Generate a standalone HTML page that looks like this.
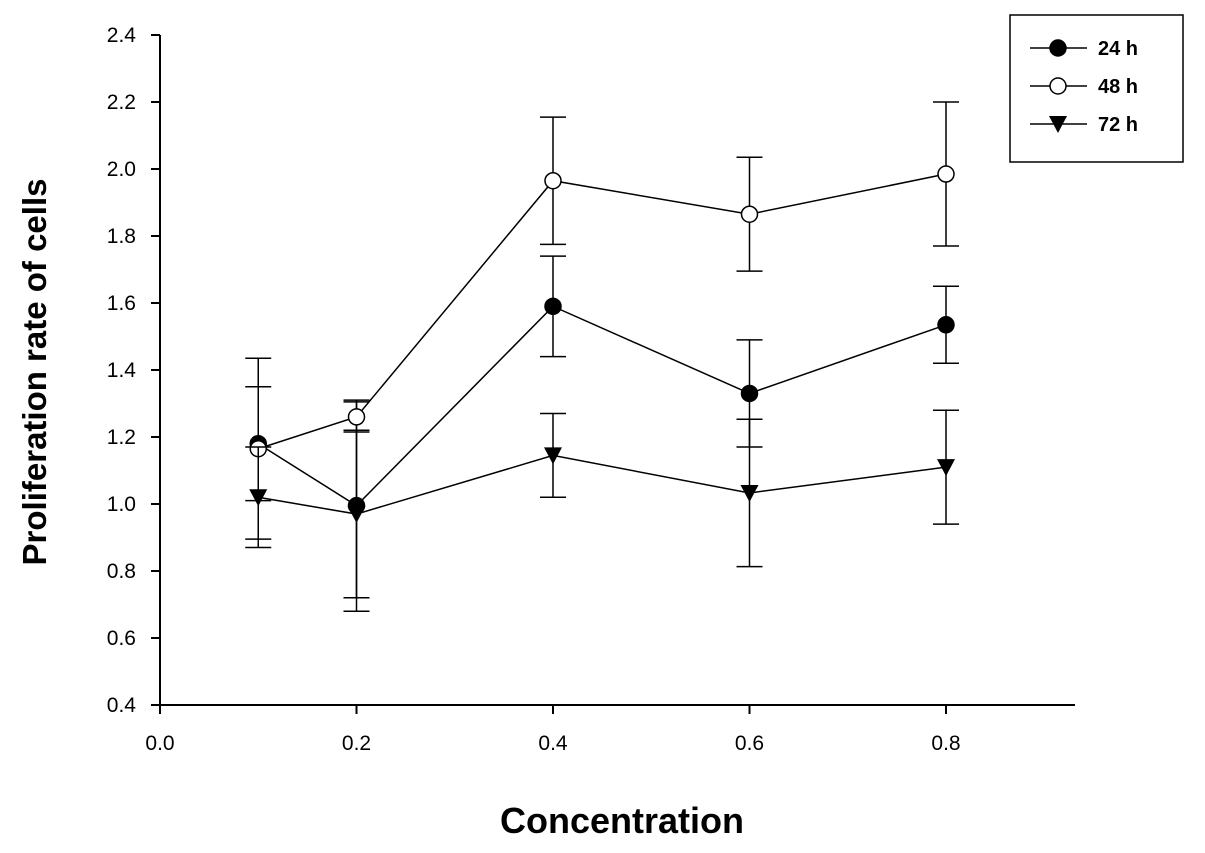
<!DOCTYPE html>
<html><head><meta charset="utf-8"><style>
body{margin:0;background:#fff;}
svg text{font-family:"Liberation Sans",Arial,sans-serif;}
</style></head><body>
<svg id="chart" width="1205" height="848" viewBox="0 0 1205 848" xmlns="http://www.w3.org/2000/svg">
<g id="axes"></g><g id="series"></g><g id="legend"></g>
</svg>
<script>
const xValues=[0.1,0.2,0.4,0.6,0.8];
const seriesNames=["24 h","48 h","72 h"];
const values24=[1.18,0.995,1.59,1.33,1.535];
const errors24=[0.17,0.315,0.15,0.16,0.115];
const values48=[1.165,1.26,1.965,1.865,1.985];
const errors48=[0.27,0.045,0.19,0.17,0.215];
const values72=[1.02,0.97,1.145,1.033,1.11];
const errors72=[0.15,0.25,0.125,0.22,0.17];
const xTicks=["0.0","0.2","0.4","0.6","0.8"];
const yTicks=["0.4","0.6","0.8","1.0","1.2","1.4","1.6","1.8","2.0","2.2","2.4"];

const NS="http://www.w3.org/2000/svg";
const X0=160,X1=1075,Y0=705,Y1=35;
function sx(v){return X0+v/0.2*196.5;}
function sy(v){return Y0-(v-0.4)/2.0*(Y0-Y1);}
function mk(tag,attrs,parent){const e=document.createElementNS(NS,tag);for(const k in attrs)e.setAttribute(k,attrs[k]);parent.appendChild(e);return e;}
const axes=document.getElementById('axes');
let a=mk('path',{d:`M${X0},${Y1}V${Y0}H${X1}`,fill:'none',stroke:'#000','stroke-width':2},axes);


yTicks.forEach(t=>{const y=sy(parseFloat(t));
 const l=mk('line',{x1:X0-9,x2:X0,y1:y,y2:y,stroke:'#000','stroke-width':2},axes);
 
 
 const tx=mk('text',{x:X0-24,y:y+7,'text-anchor':'end','font-size':21},axes);tx.textContent=t;
 
 });
xTicks.forEach(t=>{const x=sx(parseFloat(t));
 const l=mk('line',{x1:x,x2:x,y1:Y0,y2:Y0+9,stroke:'#000','stroke-width':2},axes);
 
 
 const tx=mk('text',{x:x,y:Y0+45,'text-anchor':'middle','font-size':21},axes);tx.textContent=t;
 
 });
let xt=mk('text',{x:622,y:833,'text-anchor':'middle','font-size':36,'font-weight':'bold'},axes);xt.textContent="Concentration";


let yt=mk('text',{x:0,y:0,'text-anchor':'middle','font-size':33,'font-weight':'bold',transform:'translate(46,372) rotate(-90)'},axes);yt.textContent="Proliferation rate of cells";



function marker(kind,x,y,parent){
 if(kind==2){return mk('path',{d:`M${x-9},${y-8}L${x+9},${y-8}L${x},${y+9}Z`,fill:'#000'},parent);}
 return mk('circle',{cx:x,cy:y,r:8,fill:kind==1?'#fff':'#000',stroke:'#000','stroke-width':1.5},parent);
}
const sg=document.getElementById('series');
const all=[[values24,errors24],[values48,errors48],[values72,errors72]];
all.forEach(([vals,errs],k)=>{
 const g=mk('g',{},sg);
 
 
 vals.forEach((v,i)=>{const x=sx(xValues[i]);const hi=sy(v+errs[i]),lo=sy(v-errs[i]);
  const e=mk('path',{d:`M${x},${hi}V${lo}M${x-13},${hi}H${x+13}M${x-13},${lo}H${x+13}`,stroke:'#000','stroke-width':1.5,fill:'none'},g);
  
  });
 const p=mk('polyline',{points:vals.map((v,i)=>sx(xValues[i])+','+sy(v)).join(' '),fill:'none',stroke:'#000','stroke-width':1.5},g);
 
 
 vals.forEach((v,i)=>{const m=marker(k,sx(xValues[i]),sy(v),g);
  
  });
});
const lg=document.getElementById('legend');
let box=mk('rect',{x:1010,y:15,width:173,height:147,fill:'#fff',stroke:'#000','stroke-width':1.5},lg);


seriesNames.forEach((n,k)=>{const y=48+k*38;
 const g=mk('g',{},lg);
 
 
 mk('line',{x1:1030,x2:1087,y1:y,y2:y,stroke:'#000','stroke-width':1.5},g);
 marker(k,1058,y,g);
 const t=mk('text',{x:1098,y:y+7,'font-size':20,'font-weight':'bold'},g);t.textContent=n;});
</script>
</body></html>
